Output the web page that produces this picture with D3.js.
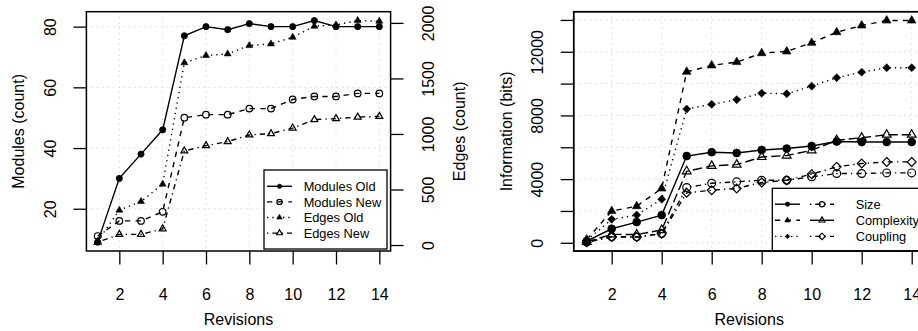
<!DOCTYPE html>
<html><head><meta charset="utf-8">
<script src="https://cdn.jsdelivr.net/npm/d3@7"></script>
<style>
body{margin:0;background:#fff}
svg{display:block}
text{font-family:"Liberation Sans",Arial,Helvetica,sans-serif;fill:#000}
</style>
</head><body>
<svg id="c" width="918" height="331"></svg>
<script>
// ---------- data ----------
const revisions = [1,2,3,4,5,6,7,8,9,10,11,12,13,14];
const revisionTicks = [2,4,6,8,10,12,14];

const modulesOld = [9,30,38,46,77,80,79,81,80,80,82,80,80,80];
const modulesNew = [11,16,16,19,50,51,51,53,53,56,57,57,58,58];
const edgesOld   = [35,314,392,548,1641,1706,1721,1796,1811,1871,1970,1982,2021,2015];
const edgesNew   = [26,96,96,146,847,895,931,991,1003,1053,1129,1138,1152,1158];
const modulesTicks = [20,40,60,80];
const edgesTicks = [0,500,1000,1500,2000];

const sizeOld       = [100,880,1300,1740,5450,5690,5640,5830,5920,6080,6360,6330,6330,6330];
const sizeNew       = [40,380,370,580,3470,3740,3830,3930,3930,4140,4350,4350,4390,4390];
const complexityOld = [200,1990,2300,3410,10740,11140,11350,11910,12020,12560,13230,13650,13960,13960];
const complexityNew = [60,530,520,800,4490,4830,4910,5390,5480,5810,6440,6600,6790,6790];
const couplingOld   = [150,1470,1740,2740,8400,8700,8990,9400,9360,9840,10370,10720,11000,11000];
const couplingNew   = [40,370,360,560,3140,3300,3410,3790,3930,4310,4770,4980,5080,5080];
const infoTicks  = [0,2000,4000,6000,8000,10000,12000,14000];
const infoLabels = [0,4000,8000,12000];

const leftLegend  = ["Modules Old","Modules New","Edges Old","Edges New"];
const rightLegend = ["Size","Complexity","Coupling"];

// ---------- helpers ----------
const svg = d3.select("#c");
const S = 1.333;
const LTY = {solid:null, dashed:[4*S,4*S].join(","), dotted:[1*S,3*S].join(","),
             dotdash:[1*S,3*S,4*S,3*S].join(","), longdash:[7*S,3*S].join(",")};
function ext(a){const lo=d3.min(a),hi=d3.max(a),r=hi-lo;return [lo-0.04*r,hi+0.04*r];}
const plain = d3.format("d");

function marker(g,type,x,y,s){
  if(type==="circleF"){
    g.append("circle").attr("cx",x).attr("cy",y).attr("r",s).attr("fill","#000").attr("stroke","#000").attr("stroke-width",0.8);
  } else if(type==="circleO"){
    g.append("circle").attr("cx",x).attr("cy",y).attr("r",s).attr("fill","none").attr("stroke","#000").attr("stroke-width",1.2);
  } else if(type==="triF"||type==="triO"){
    const xc=s*0.866, yc=s*0.5;
    g.append("path").attr("d",`M${x},${y-s}L${x+xc},${y+yc}L${x-xc},${y+yc}Z`)
      .attr("fill",type==="triF"?"#000":"none").attr("stroke","#000").attr("stroke-width",type==="triF"?0.6:1.2);
  } else if(type==="diaF"||type==="diaO"){
    g.append("path").attr("d",`M${x},${y-s}L${x+s},${y}L${x},${y+s}L${x-s},${y}Z`)
      .attr("fill",type==="diaF"?"#000":"none").attr("stroke","#000").attr("stroke-width",type==="diaF"?0.6:1.2);
  }
}

function series(g,xs,ys,vals,lty,type,size){
  const line=d3.line().x((d,i)=>xs(revisions[i])).y(d=>ys(d));
  g.append("path").datum(vals).attr("d",line).attr("fill","none").attr("stroke","#000")
    .attr("stroke-width",1.4).attr("stroke-dasharray",LTY[lty]);
  vals.forEach((v,i)=>marker(g,type,xs(revisions[i]),ys(v),size));
}

function grid(g,xs,ys,xt,yt,box){
  xt.forEach(t=>g.append("line").attr("x1",xs(t)).attr("x2",xs(t)).attr("y1",box.y0).attr("y2",box.y1)
    .attr("stroke","#d3d3d3").attr("stroke-width",1).attr("stroke-dasharray",LTY.dotted));
  yt.forEach(t=>g.append("line").attr("x1",box.x0).attr("x2",box.x1).attr("y1",ys(t)).attr("y2",ys(t))
    .attr("stroke","#d3d3d3").attr("stroke-width",1).attr("stroke-dasharray",LTY.dotted));
}

function boxRect(g,b){
  g.append("rect").attr("x",b.x0).attr("y",b.y0).attr("width",b.x1-b.x0).attr("height",b.y1-b.y0)
    .attr("fill","none").attr("stroke","#000").attr("stroke-width",1.5);
}

function styleAxis(ax){
  ax.select(".domain").remove();
  ax.selectAll(".tick line").attr("stroke","#000").attr("stroke-width",1.3);
  ax.selectAll("text").attr("font-size",16).attr("fill","#000").style("font-family",'"Liberation Sans",Arial,sans-serif');
}

function xAxis(b,xs){
  const ax=svg.append("g").attr("transform",`translate(0,${b.y1})`)
    .call(d3.axisBottom(xs).tickValues(revisionTicks).tickSize(13.5).tickSizeOuter(0).tickFormat(plain));
  styleAxis(ax);
  ax.selectAll("text").attr("y",49).attr("dy",0);
}
function yAxisLeft(b,ys,ticks,fmt){
  const ax=svg.append("g").attr("transform",`translate(${b.x0},0)`)
    .call(d3.axisLeft(ys).tickValues(ticks).tickSize(13).tickSizeOuter(0).tickFormat(fmt||plain));
  styleAxis(ax);
  ax.selectAll("text").attr("transform","rotate(-90)").attr("x",0).attr("y",-30.8).attr("dy",0).attr("text-anchor","middle");
}
function yAxisRight(xpos,ys,ticks){
  const ax=svg.append("g").attr("transform",`translate(${xpos},0)`)
    .call(d3.axisRight(ys).tickValues(ticks).tickSize(13).tickSizeOuter(0).tickFormat(plain));
  styleAxis(ax);
  ax.selectAll("text").attr("transform","rotate(-90)").attr("x",0).attr("y",43.5).attr("dy",0).attr("text-anchor","middle");
}
function vTitle(x,y,txt){
  svg.append("text").attr("transform",`translate(${x},${y}) rotate(-90)`).attr("text-anchor","middle")
    .attr("font-size",16).text(txt);
}
function hTitle(x,y,txt){
  svg.append("text").attr("x",x).attr("y",y).attr("text-anchor","middle").attr("font-size",16).text(txt);
}

// ---------- left panel ----------
const L={x0:86.4,x1:390.6,y0:11.7,y1:251};
const xL=d3.scaleLinear().domain(ext(revisions)).range([L.x0,L.x1]);
const yM=d3.scaleLinear().domain(ext(modulesOld.concat(modulesNew))).range([L.y1,L.y0]);
const yE=d3.scaleLinear().domain(ext(edgesOld.concat(edgesNew))).range([L.y1,L.y0]);

const gL=svg.append("g");
grid(gL,xL,yM,revisionTicks,modulesTicks,L);
series(gL,xL,yM,modulesOld,"solid","circleF",3.1);
series(gL,xL,yM,modulesNew,"dashed","circleO",3.3);
series(gL,xL,yE,edgesOld,"dotted","triF",4.0);
series(gL,xL,yE,edgesNew,"dotdash","triO",4.0);
boxRect(gL,L);

// left legend
const lg=svg.append("g");
lg.append("rect").attr("x",264).attr("y",170).attr("width",123).attr("height",79)
  .attr("fill","#fff").attr("stroke","#000").attr("stroke-width",1.3);
const lSpec=[["solid","circleF",2.1],["dashed","circleO",2.6],["dotted","triF",3.2],["dotdash","triO",3.3]];
const lRows=[186.3,201.9,217.5,233.1];
leftLegend.forEach((lab,i)=>{
  const y=lRows[i];
  lg.append("line").attr("x1",267).attr("x2",292).attr("y1",y).attr("y2",y).attr("stroke","#000")
    .attr("stroke-width",1.4).attr("stroke-dasharray",LTY[lSpec[i][0]]);
  marker(lg,lSpec[i][1],279.5,y,lSpec[i][2]);
  lg.append("text").attr("x",303.7).attr("y",y).attr("dy","0.36em").attr("font-size",12.8).text(lab);
});

xAxis(L,xL);
yAxisLeft(L,yM,modulesTicks);
yAxisRight(L.x1,yE,edgesTicks);
hTitle((L.x0+L.x1)/2,325,"Revisions");
vTitle(24.4,(L.y0+L.y1)/2,"Modules (count)");
vTitle(464.5,(L.y0+L.y1)/2,"Edges (count)");

// ---------- right panel ----------
const R={x0:573.7,x1:924.7,y0:11.7,y1:251};
const xR=d3.scaleLinear().domain(ext(revisions)).range([R.x0,R.x1]);
const yI=d3.scaleLinear().domain(ext([].concat(sizeOld,sizeNew,complexityOld,complexityNew,couplingOld,couplingNew))).range([R.y1,R.y0]);

const gR=svg.append("g");
grid(gR,xR,yI,revisionTicks,infoTicks,R);
series(gR,xR,yI,sizeNew,"dotdash","circleO",3.9);
series(gR,xR,yI,couplingNew,"dotdash","diaO",4.4);
series(gR,xR,yI,complexityNew,"longdash","triO",5.0);
series(gR,xR,yI,couplingOld,"dotted","diaF",4.0);
series(gR,xR,yI,complexityOld,"dashed","triF",5.0);
series(gR,xR,yI,sizeOld,"solid","circleF",3.9);
boxRect(gR,R);

// right legend
const rg=svg.append("g");
rg.append("rect").attr("x",772.3).attr("y",188.3).attr("width",160).attr("height",62.5)
  .attr("fill","#fff").attr("stroke","#000").attr("stroke-width",1.3);
const rOld=[["solid","circleF",2.1],["dashed","triF",3.2],["dotted","diaF",2.3]];
const rNew=[["dotdash","circleO",2.6],["solid","triO",3.4],["dotdash","diaO",3.3]];
const rRows=[204.2,220.3,236.4];
rightLegend.forEach((lab,i)=>{
  const y=rRows[i];
  rg.append("line").attr("x1",775).attr("x2",800).attr("y1",y).attr("y2",y).attr("stroke","#000")
    .attr("stroke-width",1.4).attr("stroke-dasharray",LTY[rOld[i][0]]);
  marker(rg,rOld[i][1],787.5,y,rOld[i][2]);
  rg.append("line").attr("x1",810).attr("x2",834).attr("y1",y).attr("y2",y).attr("stroke","#000")
    .attr("stroke-width",1.4).attr("stroke-dasharray",LTY[rNew[i][0]]);
  marker(rg,rNew[i][1],822,y,rNew[i][2]);
  rg.append("text").attr("x",855.7).attr("y",y).attr("dy","0.36em").attr("font-size",12.8).text(lab);
});
boxRect(svg.append("g"),R);

xAxis(R,xR);
yAxisLeft(R,yI,infoTicks,d=>infoLabels.includes(d)?d:"");
hTitle((R.x0+R.x1)/2,325,"Revisions");
vTitle(511.7,(R.y0+R.y1)/2,"Information (bits)");
</script>
</body></html>
